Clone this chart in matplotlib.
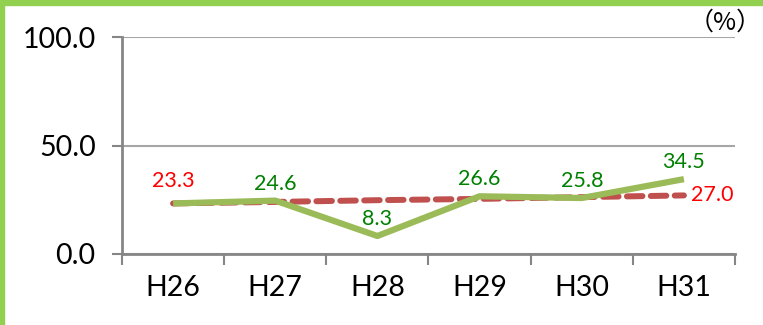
import matplotlib
matplotlib.use("Agg")
import matplotlib.pyplot as plt
from matplotlib.patches import Rectangle

years = ["H26", "H27", "H28", "H29", "H30", "H31"]
actual = [23.3, 24.6, 8.3, 26.6, 25.8, 34.5]
target = [23.3, 24.0, 24.8, 25.4, 26.2, 27.0]
yticks = [0.0, 50.0, 100.0]

W, H = 7.63, 3.25
fig = plt.figure(figsize=(W, H), dpi=100)
ax = fig.add_axes([122 / 763, 1 - 254 / 325, (735 - 122) / 763, (254 - 37) / 325])

x = list(range(len(years)))
ax.plot(x, target, color="#C0504D", lw=4.3, dashes=(2.6, 1.4), solid_capstyle="butt",
        dash_capstyle="round", zorder=3)
ax.plot(x, actual, color="#9BBB59", lw=4.5, solid_capstyle="butt", zorder=4)

ax.set_xlim(-0.5, len(years) - 0.5)
ax.set_ylim(0, 100)
ax.set_yticks(yticks)
ax.set_yticklabels([f"{v:.1f}" for v in yticks])
ax.set_xticks(x)
ax.set_xticklabels(years)
ax.set_xticks([i - 0.5 for i in range(len(years) + 1)], minor=True)

for s in ("top", "right"):
    ax.spines[s].set_visible(False)
for s in ("left", "bottom"):
    ax.spines[s].set_color("#868686")
    ax.spines[s].set_linewidth(2)

ax.yaxis.grid(True, color="#A6A6A6", lw=1.5)
ax.set_axisbelow(True)

font = "Lato"
ax.tick_params(axis="y", length=7, width=1.5, color="#868686", pad=12,
               labelsize=20.5, labelfontfamily=font)
ax.tick_params(axis="x", which="major", length=0, pad=15, labelsize=20.5,
               labelfontfamily=font)
ax.tick_params(axis="x", which="minor", length=8, width=1.5, color="#868686")

green_txt = "#008000"
red_txt = "#FF0000"
lbl = dict(fontsize=15.5, family=font, ha="center", va="bottom")
ax.annotate(f"{target[0]:.1f}", (x[0], target[0]), xytext=(0, 9),
            textcoords="offset points", color=red_txt, **lbl)
for i in range(1, len(years)):
    ax.annotate(f"{actual[i]:.1f}", (x[i], actual[i]), xytext=(0, 5),
                textcoords="offset points", color=green_txt, **lbl)
ax.annotate(f"{target[-1]:.1f}", (x[-1], target[-1]), xytext=(5, 0),
            textcoords="offset points", color=red_txt, fontsize=15.5, family=font,
            ha="left", va="center")

fig.text(762 / 763, 1 - 23 / 325, "（%）", ha="right", va="center", fontsize=18,
         family=["Noto Sans CJK JP", "DejaVu Sans"])

# green frame on the left and top edges
fig.patches.append(Rectangle((0, 0), 3.5 / 763, 1, transform=fig.transFigure,
                             color="#92D050", zorder=10))
fig.patches.append(Rectangle((0, 1 - 5 / 325), 1, 5 / 325, transform=fig.transFigure,
                             color="#92D050", zorder=10))

fig.savefig("out.png", dpi=100)
